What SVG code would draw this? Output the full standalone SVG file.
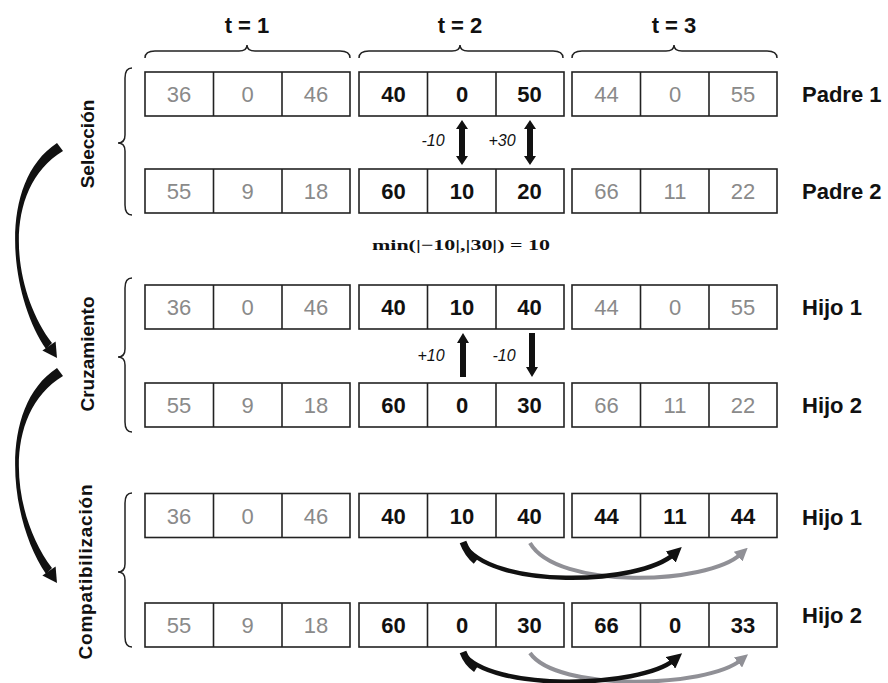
<svg xmlns="http://www.w3.org/2000/svg" xmlns:xlink="http://www.w3.org/1999/xlink" width="888" height="683" viewBox="0 0 888 683">
<style>
.cell{fill:#fff;stroke:#222;stroke-width:1.6}
.div{stroke:#222;stroke-width:1.6}
.g{font-family:"Liberation Sans",Arial,sans-serif;font-size:22px;fill:#8a8a8a;text-anchor:middle}
.b{font-family:"Liberation Sans",Arial,sans-serif;font-size:22px;font-weight:bold;fill:#111;text-anchor:middle}
.lbl{font-family:"Liberation Sans",Arial,sans-serif;font-size:22px;font-weight:bold;fill:#111}
.hdr{font-family:"Liberation Sans",Arial,sans-serif;font-size:22px;font-weight:bold;fill:#111;text-anchor:middle}
.vl{font-family:"Liberation Sans",Arial,sans-serif;font-size:19px;font-weight:bold;fill:#111;text-anchor:middle}
.it{font-family:"Liberation Sans",Arial,sans-serif;font-size:16px;font-style:italic;fill:#111;text-anchor:middle}
.brace{fill:none;stroke:#222;stroke-width:1.5}
.curveB{fill:none;stroke:#111;stroke-width:4.5}
.curveG{fill:none;stroke:#909096;stroke-width:4}
</style>
<defs>
<g id="blk">
<rect class="cell" x="0" y="0" width="205" height="44"/>
<line class="div" x1="68.5" y1="0" x2="68.5" y2="44"/>
<line class="div" x1="137" y1="0" x2="137" y2="44"/>
</g>
<marker id="hb" viewBox="0 0 10 10" refX="3" refY="5" markerWidth="15" markerHeight="15" markerUnits="userSpaceOnUse" orient="auto"><path d="M0,0 L10,5 L0,10 z" fill="#111"/></marker>
<marker id="hg" viewBox="0 0 10 10" refX="3" refY="5" markerWidth="13" markerHeight="13" markerUnits="userSpaceOnUse" orient="auto"><path d="M0,0 L10,5 L0,10 z" fill="#909096"/></marker>
</defs>
<rect width="888" height="683" fill="#fff"/>

<g id="headers">
<text class="hdr" x="247" y="33">t = 1</text>
<text class="hdr" x="460" y="33">t = 2</text>
<text class="hdr" x="674" y="33">t = 3</text>
<path class="brace" d="M145,58 Q145,51 155,51 L239,51 Q247,51 247,45 Q247,51 255,51 L340,51 Q350,51 350,58"/>
<path class="brace" d="M359,58 Q359,51 369,51 L452,51 Q460,51 460,45 Q460,51 468,51 L553,51 Q563,51 563,58"/>
<path class="brace" d="M572,58 Q572,51 582,51 L666,51 Q674,51 674,45 Q674,51 682,51 L767,51 Q777,51 777,58"/>
</g>

<g id="stages">
<path class="brace" d="M132,68 Q125,68 125,78 L125,135 Q125,143 118,143 Q125,143 125,151 L125,205 Q125,215 132,215"/>
<path class="brace" d="M132,278 Q125,278 125,288 L125,349 Q125,357 118,357 Q125,357 125,365 L125,422 Q125,432 132,432"/>
<path class="brace" d="M132,493 Q125,493 125,503 L125,564 Q125,572 118,572 Q125,572 125,580 L125,637 Q125,647 132,647"/>
<text class="vl" transform="translate(94,144) rotate(-90)">Selección</text>
<text class="vl" transform="translate(94,354) rotate(-90)">Cruzamiento</text>
<text class="vl" transform="translate(92,572) rotate(-90)" textLength="175" lengthAdjust="spacing">Compatibilización</text>
</g>

<g id="padre1">
<use xlink:href="#blk" x="145" y="72"/><use xlink:href="#blk" x="359" y="72"/><use xlink:href="#blk" x="572" y="72"/>
<text class="g" x="179" y="102">36</text><text class="g" x="247.5" y="102">0</text><text class="g" x="316" y="102">46</text>
<text class="b" x="393.5" y="102">40</text><text class="b" x="462" y="102">0</text><text class="b" x="529.5" y="102">50</text>
<text class="g" x="606.5" y="102">44</text><text class="g" x="675" y="102">0</text><text class="g" x="743" y="102">55</text>
<text class="lbl" x="802" y="102">Padre 1</text>
</g>

<g id="padre2">
<use xlink:href="#blk" x="145" y="169"/><use xlink:href="#blk" x="359" y="169"/><use xlink:href="#blk" x="572" y="169"/>
<text class="g" x="179" y="199">55</text><text class="g" x="247.5" y="199">9</text><text class="g" x="316" y="199">18</text>
<text class="b" x="393.5" y="199">60</text><text class="b" x="462" y="199">10</text><text class="b" x="529.5" y="199">20</text>
<text class="g" x="606.5" y="199">66</text><text class="g" x="675" y="199">11</text><text class="g" x="743" y="199">22</text>
<text class="lbl" x="802" y="199">Padre 2</text>
</g>

<g id="hijo1-cruce">
<use xlink:href="#blk" x="145" y="285"/><use xlink:href="#blk" x="359" y="285"/><use xlink:href="#blk" x="572" y="285"/>
<text class="g" x="179" y="315">36</text><text class="g" x="247.5" y="315">0</text><text class="g" x="316" y="315">46</text>
<text class="b" x="393.5" y="315">40</text><text class="b" x="462" y="315">10</text><text class="b" x="529.5" y="315">40</text>
<text class="g" x="606.5" y="315">44</text><text class="g" x="675" y="315">0</text><text class="g" x="743" y="315">55</text>
<text class="lbl" x="802" y="315">Hijo 1</text>
</g>

<g id="hijo2-cruce">
<use xlink:href="#blk" x="145" y="383"/><use xlink:href="#blk" x="359" y="383"/><use xlink:href="#blk" x="572" y="383"/>
<text class="g" x="179" y="413">55</text><text class="g" x="247.5" y="413">9</text><text class="g" x="316" y="413">18</text>
<text class="b" x="393.5" y="413">60</text><text class="b" x="462" y="413">0</text><text class="b" x="529.5" y="413">30</text>
<text class="g" x="606.5" y="413">66</text><text class="g" x="675" y="413">11</text><text class="g" x="743" y="413">22</text>
<text class="lbl" x="802" y="413">Hijo 2</text>
</g>

<g id="hijo1-compat">
<use xlink:href="#blk" x="145" y="493.5"/><use xlink:href="#blk" x="359" y="493.5"/><use xlink:href="#blk" x="572" y="493.5"/>
<text class="g" x="179" y="523.5">36</text><text class="g" x="247.5" y="523.5">0</text><text class="g" x="316" y="523.5">46</text>
<text class="b" x="393.5" y="523.5">40</text><text class="b" x="462" y="523.5">10</text><text class="b" x="529.5" y="523.5">40</text>
<text class="b" x="606.5" y="523.5">44</text><text class="b" x="675" y="523.5">11</text><text class="b" x="743" y="523.5">44</text>
<text class="lbl" x="802" y="525">Hijo 1</text>
</g>

<g id="hijo2-compat">
<use xlink:href="#blk" x="145" y="603"/><use xlink:href="#blk" x="359" y="603"/><use xlink:href="#blk" x="572" y="603"/>
<text class="g" x="179" y="633">55</text><text class="g" x="247.5" y="633">9</text><text class="g" x="316" y="633">18</text>
<text class="b" x="393.5" y="633">60</text><text class="b" x="462" y="633">0</text><text class="b" x="529.5" y="633">30</text>
<text class="b" x="606.5" y="633">66</text><text class="b" x="675" y="633">0</text><text class="b" x="743" y="633">33</text>
<text class="lbl" x="802" y="623">Hijo 2</text>
</g>

<g id="formula">
<text x="372" y="250" textLength="178" lengthAdjust="spacingAndGlyphs" style="font-family:'Liberation Serif','Times New Roman',serif;font-size:15px;font-weight:bold;fill:#111">min(|−10|,|30|) = 10</text>
</g>

<g id="connectors">
<path fill="#111" d="M57,143 C-4,183 10,297 46,349 L52,343 C12,291 0,189 63,151 Z"/>
<polygon fill="#111" points="55.6,341.5 42.4,350.5 57,358"/>
<path fill="#111" d="M57,368 C-4,408 10,522 46,574 L52,568 C12,516 0,414 63,376 Z"/>
<polygon fill="#111" points="55.6,566.5 42.4,575.5 57,583"/>

<polygon fill="#111" points="462,120 468,129 465,129 465,156 468,156 462,165 456,156 459,156 459,129 456,129"/>
<polygon fill="#111" points="530,120 536,129 533,129 533,156 536,156 530,165 524,156 527,156 527,129 524,129"/>
<text class="it" x="433" y="146">-10</text>
<text class="it" x="502" y="146">+30</text>

<polygon fill="#111" points="463,333 469,343 466,343 466,377 460,377 460,343 457,343"/>
<polygon fill="#111" points="529,333 535,333 535,367 538,367 532,377 526,367 529,367"/>
<text class="it" x="431" y="361">+10</text>
<text class="it" x="504" y="361">-10</text>

<path class="curveG" d="M530,543 C557,590 707,585 741,554" marker-end="url(#hg)"/>
<path class="curveB" d="M463,543 C490,590 640,585 674,554" marker-end="url(#hb)"/>
<path fill="none" stroke="#111" stroke-width="7" d="M463,542 C466,550 470,556 476,561"/>
<path class="curveG" d="M530,653 C557,692 707,688 741,660" marker-end="url(#hg)"/>
<path class="curveB" d="M463,653 C490,692 640,688 674,660" marker-end="url(#hb)"/>
<path fill="none" stroke="#111" stroke-width="7" d="M463,652 C466,660 470,665 476,669"/>
</g>
</svg>
